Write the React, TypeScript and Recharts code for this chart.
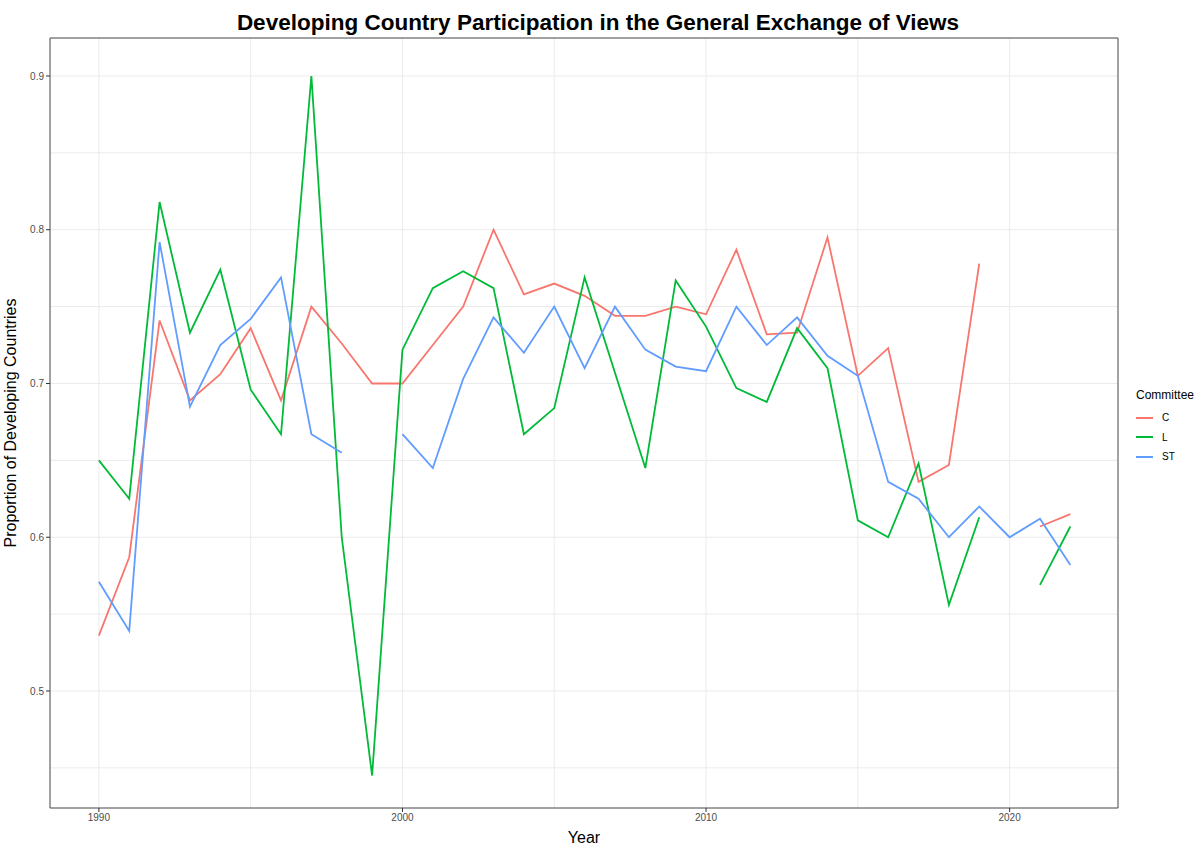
import React from "react";
import { LineChart, Line, XAxis, YAxis, CartesianGrid, ReferenceLine } from "recharts";

const years = [1990, 1991, 1992, 1993, 1994, 1995, 1996, 1997, 1998, 1999, 2000, 2001, 2002, 2003, 2004, 2005, 2006, 2007, 2008, 2009, 2010, 2011, 2012, 2013, 2014, 2015, 2016, 2017, 2018, 2019, 2020, 2021, 2022];

const seriesC = [0.536, 0.587, 0.741, 0.689, 0.706, 0.736, 0.689, 0.750, 0.726, 0.700, 0.700, 0.725, 0.750, 0.800, 0.758, 0.765, 0.757, 0.744, 0.744, 0.750, 0.745, 0.787, 0.732, 0.733, 0.795, 0.705, 0.723, 0.636, 0.647, 0.778, null, 0.607, 0.615];
const seriesL = [0.650, 0.625, 0.818, 0.733, 0.774, 0.696, 0.667, 0.900, 0.600, 0.445, 0.722, 0.762, 0.773, 0.762, 0.667, 0.684, 0.769, 0.707, 0.645, 0.767, 0.737, 0.697, 0.688, 0.736, 0.710, 0.611, 0.600, 0.648, 0.556, 0.613, null, 0.569, 0.607];
const seriesST = [0.571, 0.539, 0.792, 0.685, 0.725, 0.742, 0.769, 0.667, 0.655, null, 0.667, 0.645, 0.703, 0.743, 0.720, 0.750, 0.710, 0.750, 0.722, 0.711, 0.708, 0.750, 0.725, 0.743, 0.718, 0.705, 0.636, 0.625, 0.600, 0.620, 0.600, 0.612, 0.582];

const seriesNames = ["C", "L", "ST"];
const seriesColors = ["#F8766D", "#00BA38", "#619CFF"];

const xTicks = [1990, 2000, 2010, 2020];
const yTicks = [0.5, 0.6, 0.7, 0.8, 0.9];
const xGrid = [1990, 1995, 2000, 2005, 2010, 2015, 2020];
const yGrid = [0.45, 0.5, 0.55, 0.6, 0.65, 0.7, 0.75, 0.8, 0.85, 0.9];

const X_MIN = 1988.39;
const X_MAX = 2023.57;
const Y_MIN = 0.4239;
const Y_MAX = 0.9247;

const data = years.map((y, i) => ({ year: y, C: seriesC[i], L: seriesL[i], ST: seriesST[i] }));

const FONT = "'Liberation Sans', Arial, sans-serif";

export default function App() {
  return (
    <div style={{ position: "absolute", left: 0, top: 0, width: 1198, height: 845, background: "#fff" }}>
      <div
        style={{
          position: "absolute",
          left: 0,
          width: 1196,
          top: 10,
          textAlign: "center",
          fontFamily: FONT,
          fontWeight: "bold",
          fontSize: 22.5,
          color: "#000",
        }}
      >
        Developing Country Participation in the General Exchange of Views
      </div>
      <div style={{ position: "absolute", left: 1136, top: 388, fontFamily: FONT, color: "#000" }}>
        <div style={{ fontSize: 12, marginBottom: 6 }}>Committee</div>
        {seriesNames.map((n, i) => (
          <div key={n} style={{ display: "flex", alignItems: "center", height: 19.5 }}>
            <div style={{ width: 17, height: 2, background: seriesColors[i], marginRight: 9 }} />
            <span style={{ fontSize: 10 }}>{n}</span>
          </div>
        ))}
      </div>
      <LineChart width={1198} height={845} data={data} margin={{ top: 38, right: 80, bottom: 0, left: 0 }}>
        <CartesianGrid stroke="#ebebeb" horizontalValues={yGrid} verticalValues={xGrid} />
        <XAxis
          dataKey="year"
          type="number"
          domain={[X_MIN, X_MAX]}
          ticks={xTicks}
          allowDataOverflow
          height={37}
          tickSize={4}
          stroke="#444444"
          tick={{ fill: "#4d4d4d", fontSize: 10, fontFamily: FONT }}
          tickLine={{ stroke: "#333333" }}
          label={{ value: "Year", position: "insideBottom", offset: 2, fill: "#000", fontSize: 16, fontFamily: FONT }}
        />
        <YAxis
          type="number"
          domain={[Y_MIN, Y_MAX]}
          ticks={yTicks}
          allowDataOverflow
          width={50}
          tickSize={4}
          stroke="#444444"
          tick={{ fill: "#4d4d4d", fontSize: 10, fontFamily: FONT }}
          tickLine={{ stroke: "#333333" }}
          tickFormatter={(v: number) => String(v)}
          label={{
            value: "Proportion of Developing Countries",
            angle: -90,
            position: "insideLeft",
            offset: 10,
            style: { textAnchor: "middle" },
            fill: "#000",
            fontSize: 16,
            fontFamily: FONT,
          }}
        />
        <ReferenceLine y={Y_MAX} stroke="#444444" strokeWidth={1} />
        <ReferenceLine x={X_MAX} stroke="#444444" strokeWidth={1} />
        {seriesNames.map((n, i) => (
          <Line
            key={n}
            dataKey={n}
            type="linear"
            stroke={seriesColors[i]}
            strokeWidth={1.8}
            dot={false}
            activeDot={false}
            isAnimationActive={false}
          />
        ))}
      </LineChart>
    </div>
  );
}
